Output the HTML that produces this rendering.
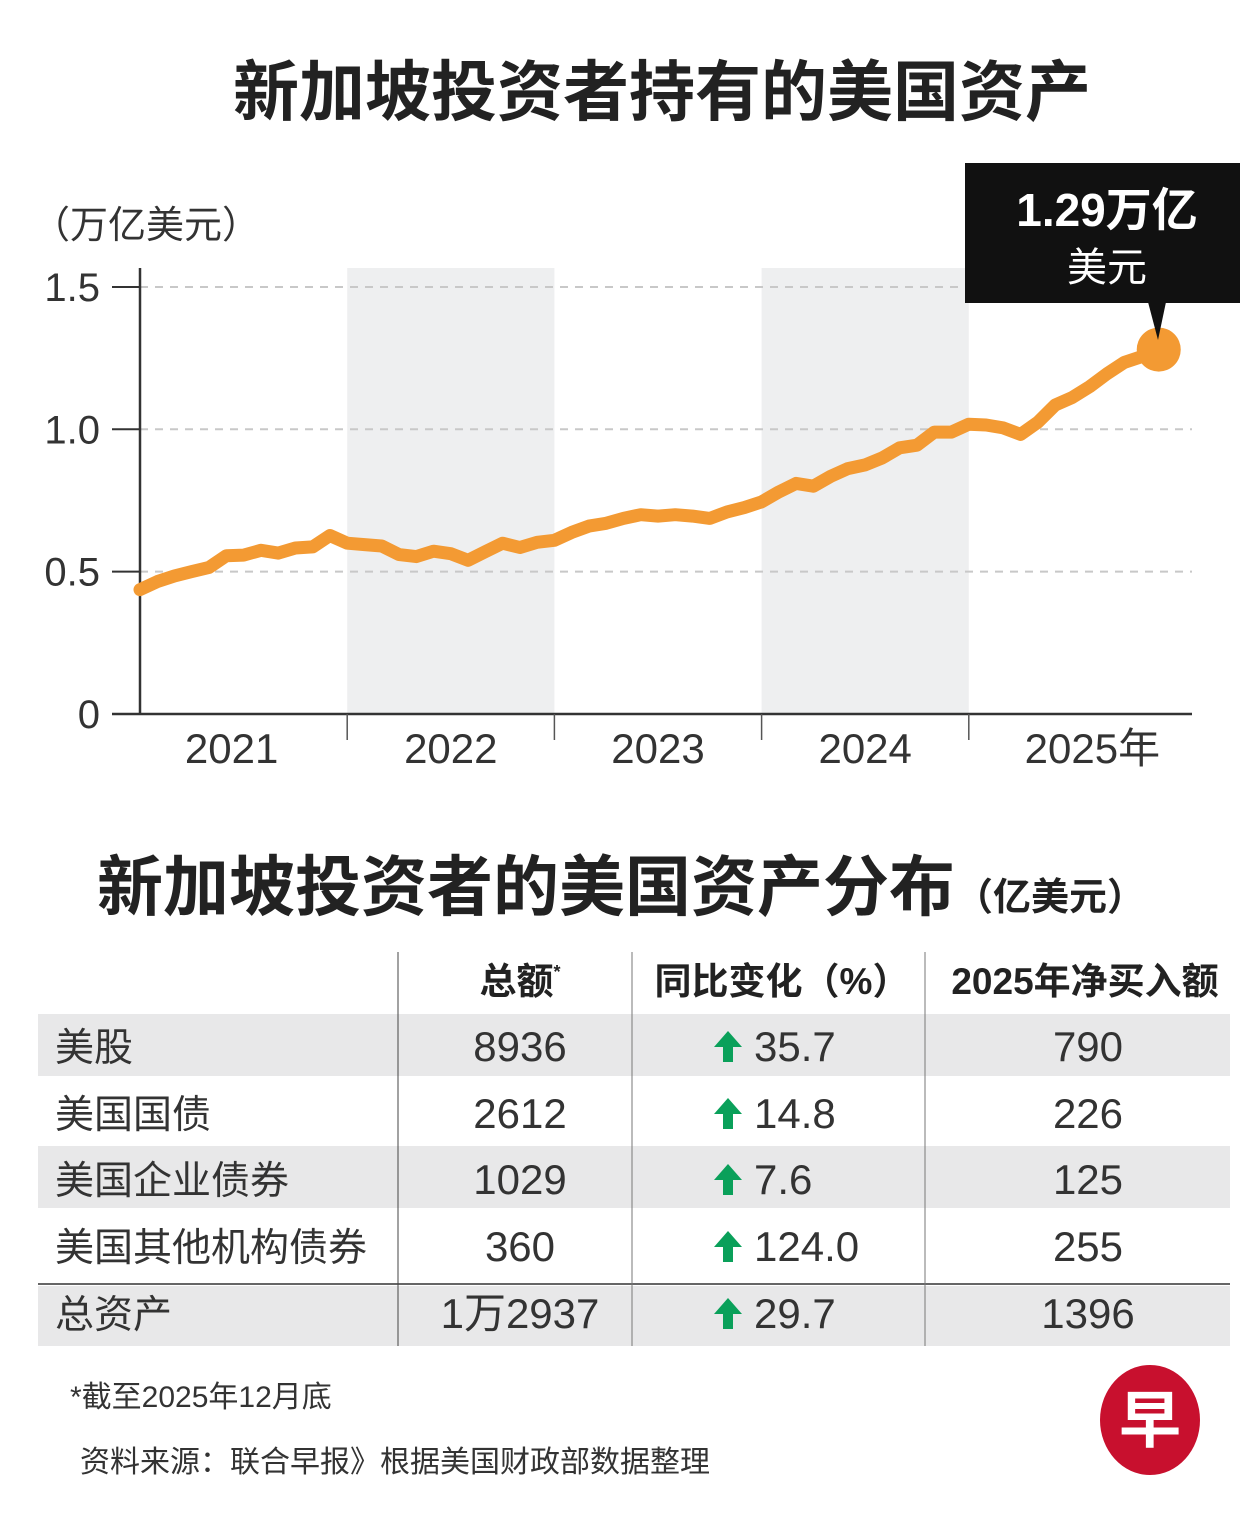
<!DOCTYPE html>
<html><head><meta charset="utf-8">
<style>
html,body{margin:0;padding:0;background:#fff;}
svg{display:block;}
text{font-family:"Liberation Sans","Noto Sans CJK SC",sans-serif;}
</style></head>
<body>
<svg id="chart" width="1251" height="1523" viewBox="0 0 1251 1523">
<text x="662" y="115" text-anchor="middle" font-size="66" font-weight="bold" fill="#222">新加坡投资者持有的美国资产</text>
<text x="32" y="238" font-size="38" fill="#333">（万亿美元）</text>
<g id="bands"></g>
<g id="grid"></g>
<g id="axes"></g>
<g id="series"></g>
<g>
<rect x="965" y="163" width="275" height="140" fill="#111"/>
<polygon points="1148,302 1166,302 1158,340" fill="#111"/>
<text x="1107" y="226" text-anchor="middle" font-size="46" font-weight="bold" fill="#fff">1.29万亿</text>
<text x="1107" y="281" text-anchor="middle" font-size="40" fill="#fff">美元</text>
</g>

<text x="97" y="910" font-size="66" font-weight="bold" fill="#222">新加坡投资者的美国资产分布<tspan font-size="38">（亿美元）</tspan></text>

<g>
<rect x="38" y="1014" width="1192" height="62" fill="#e8e8e9"/>
<rect x="38" y="1146" width="1192" height="62" fill="#e8e8e9"/>
<rect x="38" y="1286" width="1192" height="60" fill="#e8e8e9"/>
<line x1="38" y1="1284" x2="1230" y2="1284" stroke="#333" stroke-width="1.5"/>
<line x1="398" y1="952" x2="398" y2="1346" stroke="#444" stroke-width="1"/>
<line x1="632" y1="952" x2="632" y2="1346" stroke="#777" stroke-width="1"/>
<line x1="925" y1="952" x2="925" y2="1346" stroke="#777" stroke-width="1"/>
<text x="520" y="994" text-anchor="middle" font-size="37" font-weight="bold" fill="#222">总额<tspan font-size="18" dy="-16">*</tspan></text>
<text x="782" y="994" text-anchor="middle" font-size="37" font-weight="bold" fill="#222">同比变化（%）</text>
<text x="1085" y="994" text-anchor="middle" font-size="37" font-weight="bold" fill="#222">2025年净买入额</text>
<g id="rows"></g>
</g>

<text x="70" y="1407" font-size="30" fill="#333">*截至2025年12月底</text>
<text x="80" y="1472" font-size="30" fill="#333">资料来源：联合早报》根据美国财政部数据整理</text>
<g>
<ellipse cx="1150" cy="1420" rx="50" ry="55" fill="#c8102e"/>
<text x="1150" y="1442" text-anchor="middle" font-size="62" font-weight="bold" fill="#fff">早</text>
</g>
</svg>
<script>
const yearLabels = ["2021","2022","2023","2024","2025年"];
const yTicks = [0, 0.5, 1.0, 1.5];
const yTickLabels = ["0","0.5","1.0","1.5"];
const values = [0.437,0.465,0.485,0.50,0.515,0.556,0.558,0.575,0.565,0.583,0.587,0.627,
0.60,0.595,0.59,0.56,0.553,0.572,0.563,0.54,0.57,0.60,0.585,0.603,
0.61,0.638,0.66,0.67,0.687,0.70,0.695,0.70,0.695,0.687,0.71,0.725,
0.745,0.78,0.81,0.80,0.835,0.862,0.875,0.90,0.935,0.944,0.99,0.99,
1.018,1.015,1.005,0.982,1.025,1.085,1.112,1.15,1.195,1.235,1.255,1.28];
const rowNames = ["美股","美国国债","美国企业债券","美国其他机构债券","总资产"];
const rowTotals = ["8936","2612","1029","360","1万2937"];
const rowYoy = ["35.7","14.8","7.6","124.0","29.7"];
const rowNetBuy = ["790","226","125","255","1396"];

const NS = "http://www.w3.org/2000/svg";
function mk(tag, attrs, parent){const e=document.createElementNS(NS,tag);for(const k in attrs)e.setAttribute(k,attrs[k]);parent.appendChild(e);return e;}
const x0=140, yearW=207.2, monthW=yearW/12;
const xm = i => x0 + i*monthW;
const yv = v => 714 - v*284.7;

const bands=document.getElementById('bands');
[1,3].forEach(k=>{
  const r=mk('rect',{x:x0+k*yearW,y:268,width:yearW,height:446,fill:'#eeeff0'},bands);
  
  
});
const grid=document.getElementById('grid');
const axes=document.getElementById('axes');
yTicks.forEach((t,i)=>{
  if(t>0){
    const g=mk('line',{x1:x0,x2:1192,y1:yv(t),y2:yv(t),stroke:'#c8c8c8','stroke-width':2,'stroke-dasharray':'8 7'},grid);
    
    
  }
  const tk=mk('line',{x1:112,x2:x0,y1:yv(t),y2:yv(t),stroke:'#333','stroke-width':2},axes);
  
  
  const lb=mk('text',{x:100,y:yv(t)+14,'text-anchor':'end','font-size':40,fill:'#333'},axes);
  lb.textContent=yTickLabels[i];
  
  
});
const ya=mk('line',{x1:x0,x2:x0,y1:268,y2:715,stroke:'#333','stroke-width':2.5},axes);


const xa=mk('line',{x1:112,x2:1192,y1:714,y2:714,stroke:'#333','stroke-width':2.5},axes);


yearLabels.forEach((y,i)=>{
  if(i>0){
    const t=mk('line',{x1:x0+i*yearW,x2:x0+i*yearW,y1:714,y2:740,stroke:'#555','stroke-width':1.5},axes);
    
    
  }
  const l=mk('text',{x:x0+i*yearW+yearW/2+(i===4?20:(i===0?-12:0)),y:763,'text-anchor':'middle','font-size':42,fill:'#333'},axes);
  l.textContent=y;
  
  
});
const series=document.getElementById('series');
const pts=values.map((v,i)=>xm(i).toFixed(1)+','+yv(v).toFixed(1)).join(' ');
const pl=mk('polyline',{points:pts,fill:'none',stroke:'#f39a33','stroke-width':13,'stroke-linejoin':'round','stroke-linecap':'round'},series);


const last=values.length-1;
const dot=mk('circle',{cx:xm(last),cy:yv(values[last]),r:22,fill:'#f39a33'},series);



const rows=document.getElementById('rows');
const rowY=[1061,1128,1194,1261,1328];
rowNames.forEach((n,i)=>{
  const y=rowY[i];
  const a=mk('text',{x:55,y:y,'font-size':39,fill:'#333'},rows);a.textContent=n;
  
  
  const b=mk('text',{x:520,y:y,'text-anchor':'middle','font-size':42,fill:'#333'},rows);b.textContent=rowTotals[i];
  
  
  const ar=mk('path',{d:`M714 ${y-14} L728 ${y-30} L742 ${y-14} L733 ${y-14} L733 ${y+1} L723 ${y+1} L723 ${y-14} Z`,fill:'#0aa05a'},rows);
  
  
  const c=mk('text',{x:754,y:y,'font-size':42,fill:'#333'},rows);c.textContent=rowYoy[i];
  
  
  const d=mk('text',{x:1088,y:y,'text-anchor':'middle','font-size':42,fill:'#333'},rows);d.textContent=rowNetBuy[i];
  
  
});
</script>
</body></html>
